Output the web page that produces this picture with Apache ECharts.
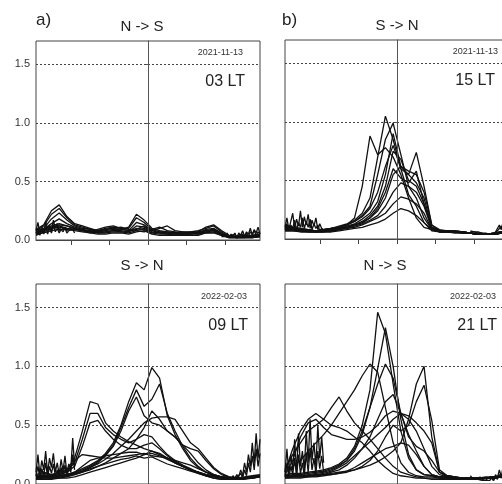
<!DOCTYPE html>
<html>
<head>
<meta charset="utf-8">
<script src="https://cdn.jsdelivr.net/npm/echarts@6/dist/echarts.min.js"></script>
<style>
html, body { margin: 0; padding: 0; background: #fff; }
#chart { width: 502px; height: 484px; }
</style>
</head>
<body>
<div id="chart"></div>
<script>
// shared x positions (latitude-like, centre = 0)
const xs = [-29,-27,-25,-23,-21,-19,-17,-15,-13,-11,-9,-7,-5,-3,-1,1,3,5,7,9,11,13,15,17,19,21,23,25,27,29];
const noiseLeftX = [-29,-28.5,-28,-27.5,-27,-26.5,-26,-25.5,-25,-24.5,-24,-23.5,-23,-22.5,-22,-21.5,-21,-20.5,-20,-19.5,-19];
const noiseRightX = [19,19.5,20,20.5,21,21.5,22,22.5,23,23.5,24,24.5,25,25.5,26,26.5,27,27.5,28,28.5,29];
const yTicks = [0, 0.5, 1.0, 1.5];
const xTicks = [-20, -10, 0, 10, 20];

// a) 2021-11-13 03 LT, N -> S
const a1 = [0.09,0.13,0.25,0.30,0.20,0.14,0.12,0.10,0.08,0.09,0.10,0.09,0.11,0.22,0.17,0.10,0.08,0.07,0.06,0.07,0.07,0.07,0.11,0.13,0.08,0.04,0.03,0.03,0.04,0.05];
const a2 = [0.08,0.12,0.22,0.27,0.19,0.13,0.11,0.09,0.08,0.10,0.11,0.10,0.10,0.19,0.15,0.09,0.07,0.07,0.06,0.06,0.07,0.08,0.10,0.12,0.07,0.03,0.03,0.04,0.04,0.05];
const a3 = [0.07,0.10,0.18,0.23,0.17,0.12,0.10,0.09,0.07,0.08,0.09,0.09,0.08,0.15,0.13,0.08,0.06,0.06,0.06,0.05,0.06,0.06,0.09,0.10,0.06,0.03,0.02,0.03,0.03,0.04];
const a4 = [0.06,0.09,0.14,0.18,0.14,0.11,0.09,0.08,0.07,0.07,0.08,0.08,0.07,0.12,0.11,0.07,0.06,0.05,0.05,0.05,0.05,0.06,0.08,0.09,0.05,0.03,0.02,0.02,0.03,0.04];
const a5 = [0.05,0.08,0.12,0.14,0.12,0.10,0.08,0.07,0.06,0.06,0.07,0.07,0.06,0.08,0.10,0.06,0.05,0.05,0.04,0.04,0.05,0.05,0.07,0.08,0.05,0.02,0.02,0.02,0.02,0.03];
const a6 = [0.04,0.07,0.10,0.12,0.10,0.09,0.08,0.06,0.05,0.05,0.06,0.06,0.05,0.07,0.08,0.05,0.04,0.04,0.04,0.04,0.04,0.04,0.06,0.06,0.04,0.02,0.02,0.02,0.02,0.03];
const a7 = [0.06,0.08,0.11,0.13,0.12,0.10,0.09,0.07,0.09,0.11,0.12,0.10,0.08,0.09,0.12,0.08,0.10,0.12,0.08,0.07,0.06,0.07,0.08,0.09,0.06,0.03,0.02,0.03,0.03,0.04];
const a8 = [0.05,0.06,0.08,0.09,0.09,0.08,0.07,0.06,0.07,0.09,0.10,0.11,0.09,0.08,0.07,0.09,0.11,0.08,0.07,0.06,0.06,0.06,0.07,0.08,0.05,0.02,0.02,0.02,0.02,0.03];
const a9 = [0.07,0.09,0.10,0.11,0.10,0.09,0.08,0.08,0.06,0.07,0.08,0.07,0.07,0.10,0.09,0.06,0.07,0.06,0.05,0.05,0.06,0.05,0.06,0.07,0.04,0.03,0.03,0.03,0.04,0.04];
const aNoiseL1 = [0.08,0.15,0.06,0.12,0.05,0.16,0.09,0.13,0.07,0.17,0.10,0.14,0.08,0.12,0.09,0.11,0.08,0.10,0.09,0.11,0.08];
const aNoiseL2 = [0.06,0.10,0.04,0.09,0.06,0.12,0.05,0.10,0.06,0.13,0.07,0.10,0.06,0.09,0.07,0.10,0.06,0.08,0.07,0.09,0.06];
const aNoiseR1 = [0.05,0.04,0.03,0.06,0.02,0.05,0.03,0.06,0.02,0.06,0.04,0.08,0.03,0.07,0.05,0.10,0.04,0.09,0.06,0.11,0.05];
const aNoiseR2 = [0.03,0.02,0.03,0.04,0.02,0.04,0.03,0.05,0.02,0.04,0.03,0.05,0.02,0.06,0.03,0.07,0.05,0.08,0.04,0.07,0.05];

// b) 2021-11-13 15 LT, S -> N
const b1 = [0.12,0.10,0.09,0.08,0.07,0.08,0.09,0.10,0.12,0.18,0.45,0.88,0.72,0.78,0.70,0.55,0.35,0.18,0.10,0.08,0.07,0.07,0.07,0.06,0.05,0.04,0.04,0.05,0.06,0.07];
const b2 = [0.11,0.10,0.09,0.08,0.07,0.08,0.09,0.11,0.13,0.16,0.22,0.35,0.70,1.05,0.85,0.60,0.38,0.28,0.14,0.08,0.07,0.07,0.06,0.06,0.05,0.04,0.04,0.05,0.06,0.06];
const b3 = [0.10,0.09,0.08,0.07,0.07,0.08,0.09,0.10,0.12,0.15,0.20,0.28,0.55,0.85,0.99,0.72,0.45,0.35,0.18,0.08,0.07,0.07,0.07,0.06,0.05,0.04,0.04,0.05,0.06,0.07];
const b4 = [0.10,0.09,0.08,0.08,0.07,0.08,0.09,0.10,0.12,0.15,0.19,0.26,0.40,0.62,0.80,0.60,0.55,0.74,0.45,0.12,0.08,0.07,0.07,0.06,0.05,0.04,0.04,0.05,0.06,0.07];
const b5 = [0.09,0.09,0.08,0.07,0.07,0.07,0.08,0.09,0.11,0.13,0.17,0.22,0.32,0.55,0.90,0.62,0.58,0.55,0.40,0.12,0.07,0.07,0.06,0.06,0.05,0.04,0.04,0.04,0.05,0.06];
const b6 = [0.09,0.08,0.08,0.07,0.07,0.07,0.08,0.09,0.10,0.12,0.15,0.20,0.28,0.45,0.75,0.68,0.50,0.45,0.30,0.10,0.07,0.06,0.06,0.06,0.05,0.04,0.04,0.04,0.05,0.06];
const b7 = [0.08,0.08,0.07,0.07,0.07,0.07,0.07,0.08,0.10,0.12,0.14,0.18,0.24,0.35,0.55,0.62,0.55,0.48,0.35,0.10,0.07,0.06,0.06,0.06,0.05,0.04,0.04,0.04,0.05,0.06];
const b8 = [0.08,0.08,0.07,0.07,0.06,0.07,0.07,0.08,0.09,0.11,0.13,0.16,0.20,0.28,0.40,0.48,0.45,0.40,0.28,0.09,0.06,0.06,0.06,0.05,0.05,0.04,0.04,0.04,0.05,0.06];
const b9 = [0.07,0.07,0.07,0.06,0.06,0.06,0.07,0.08,0.09,0.10,0.12,0.15,0.18,0.22,0.30,0.36,0.34,0.30,0.22,0.08,0.06,0.06,0.06,0.05,0.05,0.04,0.04,0.04,0.05,0.06];
const b10 = [0.08,0.08,0.07,0.07,0.06,0.07,0.08,0.09,0.10,0.12,0.14,0.18,0.26,0.40,0.60,0.52,0.48,0.58,0.30,0.10,0.07,0.06,0.06,0.06,0.05,0.04,0.04,0.04,0.05,0.06];
const b11 = [0.07,0.07,0.06,0.06,0.06,0.06,0.06,0.07,0.08,0.09,0.10,0.12,0.14,0.17,0.22,0.26,0.24,0.20,0.14,0.07,0.06,0.06,0.05,0.05,0.05,0.04,0.04,0.04,0.05,0.06];
const bNoiseL1 = [0.10,0.18,0.08,0.15,0.22,0.09,0.17,0.11,0.24,0.10,0.19,0.12,0.21,0.09,0.16,0.11,0.18,0.08,0.13,0.09,0.08];
const bNoiseL2 = [0.08,0.13,0.07,0.12,0.09,0.16,0.08,0.14,0.10,0.18,0.09,0.15,0.10,0.17,0.08,0.13,0.09,0.12,0.07,0.09,0.07];
const bNoiseR1 = [0.07,0.07,0.06,0.07,0.06,0.06,0.05,0.06,0.05,0.05,0.04,0.05,0.04,0.06,0.09,0.12,0.08,0.15,0.10,0.13,0.09];
const bNoiseR2 = [0.06,0.06,0.06,0.06,0.05,0.05,0.05,0.05,0.04,0.04,0.04,0.04,0.04,0.05,0.07,0.09,0.11,0.08,0.12,0.07,0.10];

// c) 2022-02-03 09 LT, S -> N
const c1 = [0.08,0.10,0.08,0.10,0.12,0.22,0.45,0.70,0.68,0.52,0.45,0.40,0.36,0.33,0.30,0.28,0.25,0.22,0.18,0.15,0.12,0.10,0.08,0.07,0.06,0.05,0.05,0.06,0.07,0.08];
const c2 = [0.07,0.09,0.08,0.09,0.11,0.18,0.38,0.60,0.60,0.48,0.42,0.38,0.35,0.38,0.42,0.40,0.32,0.25,0.20,0.16,0.13,0.10,0.08,0.07,0.06,0.05,0.05,0.05,0.06,0.07];
const c3 = [0.06,0.08,0.07,0.08,0.10,0.15,0.32,0.52,0.54,0.45,0.38,0.33,0.30,0.30,0.33,0.35,0.30,0.24,0.19,0.15,0.12,0.09,0.07,0.06,0.05,0.05,0.04,0.05,0.06,0.07];
const c4 = [0.06,0.07,0.06,0.07,0.08,0.10,0.13,0.16,0.20,0.26,0.35,0.50,0.70,0.86,0.80,0.99,0.90,0.58,0.42,0.30,0.20,0.14,0.10,0.08,0.06,0.05,0.05,0.05,0.06,0.07];
const c5 = [0.06,0.07,0.06,0.07,0.08,0.10,0.12,0.15,0.19,0.25,0.33,0.48,0.65,0.80,0.66,0.72,0.85,0.60,0.45,0.32,0.22,0.15,0.10,0.08,0.06,0.05,0.05,0.05,0.06,0.07];
const c6 = [0.05,0.06,0.06,0.07,0.08,0.09,0.11,0.14,0.18,0.24,0.32,0.45,0.62,0.74,0.58,0.52,0.50,0.45,0.40,0.33,0.26,0.18,0.12,0.08,0.06,0.05,0.05,0.05,0.06,0.07];
const c7 = [0.05,0.06,0.06,0.06,0.07,0.09,0.11,0.14,0.17,0.21,0.26,0.32,0.38,0.45,0.52,0.56,0.57,0.57,0.55,0.45,0.35,0.30,0.22,0.14,0.09,0.06,0.05,0.05,0.06,0.07];
const c8 = [0.05,0.06,0.05,0.06,0.07,0.08,0.10,0.12,0.15,0.18,0.22,0.26,0.30,0.38,0.48,0.62,0.55,0.45,0.40,0.33,0.30,0.28,0.20,0.13,0.08,0.06,0.05,0.05,0.06,0.07];
const c9 = [0.05,0.05,0.05,0.06,0.07,0.10,0.15,0.20,0.22,0.24,0.25,0.26,0.27,0.27,0.25,0.26,0.24,0.21,0.18,0.15,0.12,0.10,0.08,0.06,0.05,0.05,0.05,0.05,0.06,0.07];
const c10 = [0.04,0.05,0.05,0.05,0.06,0.08,0.10,0.13,0.15,0.17,0.19,0.21,0.22,0.24,0.22,0.23,0.20,0.17,0.15,0.13,0.11,0.09,0.07,0.05,0.04,0.04,0.04,0.05,0.05,0.06];
const c11 = [0.04,0.04,0.04,0.05,0.05,0.06,0.08,0.10,0.12,0.14,0.16,0.18,0.20,0.22,0.25,0.28,0.26,0.22,0.18,0.15,0.12,0.10,0.07,0.05,0.04,0.04,0.04,0.04,0.05,0.06];
const c12 = [0.06,0.07,0.07,0.08,0.10,0.20,0.25,0.24,0.23,0.22,0.22,0.23,0.24,0.25,0.26,0.24,0.23,0.22,0.20,0.18,0.16,0.13,0.10,0.07,0.05,0.04,0.04,0.05,0.05,0.06];
const cNoiseL1 = [0.10,0.25,0.08,0.20,0.12,0.28,0.09,0.22,0.14,0.26,0.10,0.18,0.08,0.21,0.11,0.24,0.09,0.17,0.12,0.39,0.15];
const cNoiseL2 = [0.07,0.15,0.05,0.13,0.08,0.18,0.06,0.15,0.09,0.17,0.07,0.12,0.06,0.14,0.08,0.16,0.07,0.13,0.10,0.25,0.12];
const cNoiseR1 = [0.06,0.05,0.07,0.05,0.06,0.04,0.07,0.05,0.08,0.06,0.12,0.07,0.18,0.10,0.25,0.15,0.35,0.18,0.43,0.22,0.38];
const cNoiseR2 = [0.05,0.04,0.05,0.04,0.05,0.04,0.05,0.04,0.06,0.05,0.09,0.05,0.12,0.07,0.18,0.10,0.24,0.12,0.30,0.15,0.26];

// d) 2022-02-03 21 LT, N -> S
const d1 = [0.08,0.09,0.09,0.10,0.11,0.12,0.14,0.17,0.22,0.32,0.50,0.80,1.46,1.28,0.85,0.45,0.22,0.12,0.08,0.07,0.06,0.06,0.05,0.05,0.05,0.05,0.06,0.06,0.07,0.08];
const d2 = [0.07,0.08,0.08,0.09,0.10,0.11,0.13,0.16,0.20,0.28,0.42,0.65,0.98,1.33,1.00,0.55,0.25,0.12,0.08,0.07,0.06,0.06,0.05,0.05,0.05,0.05,0.05,0.06,0.07,0.07];
const d3 = [0.06,0.07,0.07,0.07,0.08,0.08,0.09,0.10,0.11,0.12,0.14,0.16,0.19,0.23,0.28,0.35,0.55,0.85,1.00,0.40,0.10,0.07,0.06,0.05,0.05,0.05,0.05,0.06,0.06,0.07];
const d4 = [0.06,0.06,0.06,0.07,0.07,0.08,0.08,0.09,0.10,0.12,0.15,0.20,0.28,0.40,0.50,0.45,0.50,0.70,0.84,0.54,0.12,0.07,0.06,0.05,0.05,0.05,0.05,0.05,0.06,0.07];
const d5 = [0.10,0.15,0.20,0.28,0.35,0.42,0.50,0.60,0.70,0.80,0.92,1.02,0.95,0.65,0.35,0.18,0.10,0.07,0.06,0.06,0.05,0.05,0.05,0.05,0.05,0.05,0.05,0.06,0.06,0.07];
const d6 = [0.06,0.07,0.07,0.08,0.09,0.10,0.12,0.15,0.20,0.30,0.45,0.65,0.85,1.02,0.90,0.60,0.40,0.32,0.28,0.20,0.10,0.07,0.06,0.05,0.05,0.05,0.05,0.06,0.06,0.07];
const d7 = [0.12,0.25,0.35,0.45,0.50,0.55,0.65,0.74,0.62,0.52,0.45,0.38,0.30,0.22,0.15,0.10,0.08,0.06,0.05,0.05,0.05,0.04,0.04,0.04,0.04,0.04,0.05,0.05,0.06,0.07];
const d8 = [0.10,0.30,0.45,0.55,0.60,0.55,0.50,0.48,0.45,0.40,0.35,0.28,0.20,0.14,0.09,0.07,0.06,0.05,0.05,0.04,0.04,0.04,0.04,0.04,0.04,0.04,0.05,0.05,0.06,0.07];
const d9 = [0.08,0.20,0.40,0.52,0.55,0.48,0.42,0.40,0.38,0.38,0.40,0.44,0.50,0.58,0.62,0.60,0.55,0.45,0.30,0.15,0.08,0.06,0.05,0.05,0.05,0.05,0.05,0.05,0.06,0.07];
const d10 = [0.05,0.06,0.06,0.06,0.07,0.08,0.10,0.12,0.16,0.22,0.30,0.40,0.55,0.70,0.76,0.60,0.42,0.28,0.15,0.08,0.06,0.05,0.05,0.05,0.05,0.05,0.05,0.05,0.06,0.07];
const d11 = [0.06,0.06,0.06,0.07,0.08,0.09,0.11,0.14,0.18,0.24,0.30,0.36,0.42,0.48,0.55,0.60,0.58,0.52,0.45,0.35,0.10,0.06,0.05,0.05,0.05,0.05,0.05,0.05,0.06,0.07];
const d12 = [0.05,0.05,0.05,0.06,0.06,0.07,0.08,0.09,0.11,0.14,0.18,0.22,0.26,0.30,0.32,0.35,0.33,0.25,0.15,0.08,0.06,0.05,0.05,0.04,0.04,0.04,0.05,0.05,0.06,0.07];
const dNoiseL1 = [0.10,0.30,0.08,0.25,0.12,0.38,0.10,0.43,0.15,0.28,0.12,0.45,0.18,0.55,0.20,0.35,0.15,0.50,0.22,0.40,0.18];
const dNoiseL2 = [0.06,0.18,0.05,0.15,0.08,0.22,0.06,0.25,0.09,0.18,0.07,0.26,0.10,0.30,0.12,0.22,0.09,0.28,0.13,0.24,0.10];
const dNoiseR1 = [0.07,0.05,0.06,0.04,0.05,0.06,0.04,0.05,0.03,0.05,0.04,0.06,0.03,0.08,0.05,0.12,0.06,0.15,0.08,0.20,0.10];
const dNoiseR2 = [0.05,0.04,0.04,0.03,0.04,0.04,0.03,0.04,0.03,0.04,0.03,0.05,0.03,0.06,0.04,0.08,0.05,0.10,0.06,0.13,0.07];

const panels = [
  { curves: [a1,a2,a3,a4,a5,a6,a7,a8,a9], left: [aNoiseL1,aNoiseL2], right: [aNoiseR1,aNoiseR2] },
  { curves: [b1,b2,b3,b4,b5,b6,b7,b8,b9,b10,b11], left: [bNoiseL1,bNoiseL2], right: [bNoiseR1,bNoiseR2] },
  { curves: [c1,c2,c3,c4,c5,c6,c7,c8,c9,c10,c11,c12], left: [cNoiseL1,cNoiseL2], right: [cNoiseR1,cNoiseR2] },
  { curves: [d1,d2,d3,d4,d5,d6,d7,d8,d9,d10,d11,d12], left: [dNoiseL1,dNoiseL2], right: [dNoiseR1,dNoiseR2] }
];

const grids = [
  { left: 36, top: 41, width: 224, height: 199 },
  { left: 285, top: 40, width: 224, height: 199 },
  { left: 36, top: 284, width: 224, height: 200 },
  { left: 285, top: 284, width: 224, height: 200 }
];

const lineCol = '#111';
const series = [];
function curve(g, xv, ys) {
  return {
    type: 'line', xAxisIndex: g, yAxisIndex: g, silent: true,
    symbol: 'none', clip: true,
    lineStyle: { color: lineCol, width: 1.3 },
    data: xv.map((x, i) => [x, ys[i]])
  };
}
panels.forEach((p, g) => {
  p.curves.forEach(ys => series.push(curve(g, xs, ys)));
  p.left.forEach(ys => series.push(curve(g, noiseLeftX, ys)));
  p.right.forEach(ys => series.push(curve(g, noiseRightX, ys)));
  // centre line at 0
  series.push({
    type: 'line', xAxisIndex: g, yAxisIndex: g, data: [], silent: true,
    markLine: {
      symbol: 'none', silent: true, animation: false,
      label: { show: false },
      lineStyle: { color: '#555', type: 'solid', width: 1 },
      data: [{ xAxis: 0 }]
    }
  });
});

const xAxes = grids.map((_, g) => ({
  type: 'value', gridIndex: g, min: -29, max: 29,
  axisLine: { show: true, lineStyle: { color: '#444' } },
  axisTick: { show: true, length: 5, customValues: xTicks, lineStyle: { color: '#444' } },
  axisLabel: { show: false },
  splitLine: { show: false }
}));

const yAxes = grids.map((_, g) => ({
  type: 'value', gridIndex: g, min: 0, max: 1.7, interval: 0.5,
  axisLine: { show: true, lineStyle: { color: '#444' } },
  axisTick: { show: true, length: 3, customValues: yTicks, lineStyle: { color: '#555', type: [2, 2] } },
  axisLabel: {
    show: g === 0 || g === 2, customValues: yTicks, margin: 6,
    color: '#333', fontSize: 11, fontFamily: 'Liberation Sans, Arial, sans-serif',
    formatter: v => v.toFixed(1)
  },
  splitLine: { show: true, lineStyle: { color: '#444', type: [2, 2], width: 1 } }
}));

function txt(x, y, s, size, align, col) {
  return {
    type: 'text', x: x, y: y, silent: true,
    style: {
      text: s, fill: col || '#222',
      font: size + 'px "Liberation Sans", Arial, sans-serif',
      align: align, verticalAlign: 'middle',
      textAlign: align, textVerticalAlign: 'middle'
    }
  };
}

const graphics = [
  txt(36, 20, 'a)', 17, 'left'),
  txt(142, 27, 'N -> S', 15, 'center'),
  txt(282, 20, 'b)', 17, 'left'),
  txt(397, 26, 'S -> N', 15, 'center'),
  txt(142, 266, 'S -> N', 15, 'center'),
  txt(385, 266, 'N -> S', 15, 'center'),
  txt(243, 53, '2021-11-13', 9, 'right', '#333'),
  txt(498, 52, '2021-11-13', 9, 'right', '#333'),
  txt(247, 297, '2022-02-03', 9, 'right', '#333'),
  txt(496, 297, '2022-02-03', 9, 'right', '#333'),
  txt(245, 82, '03 LT', 16, 'right'),
  txt(495, 81, '15 LT', 16, 'right'),
  txt(248, 326, '09 LT', 16, 'right'),
  txt(497, 326, '21 LT', 16, 'right')
];

const chart = echarts.init(document.getElementById('chart'), null, { renderer: 'canvas' });
chart.setOption({
  animation: false,
  backgroundColor: '#fff',
  grid: grids.map(g => Object.assign({
    show: true, borderColor: '#444', borderWidth: 1,
    containLabel: false, outerBoundsMode: 'none'
  }, g)),
  xAxis: xAxes,
  yAxis: yAxes,
  series: series,
  graphic: graphics
});
</script>
</body>
</html>
